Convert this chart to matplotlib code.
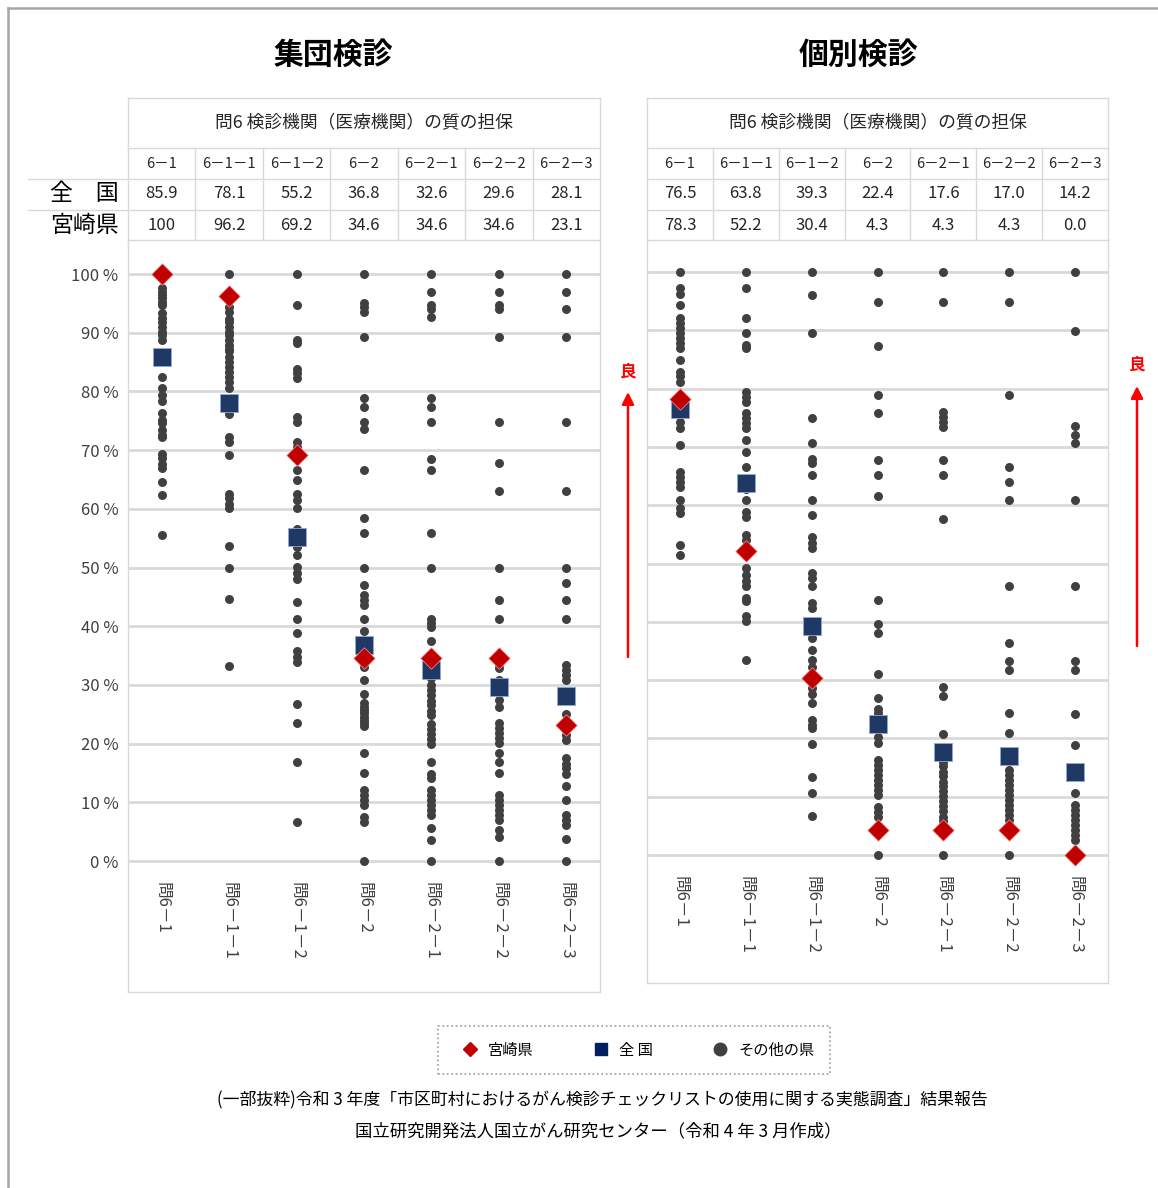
import matplotlib
matplotlib.use("Agg")
import matplotlib.pyplot as plt
from matplotlib.lines import Line2D
from matplotlib.patches import FancyArrowPatch

plt.rcParams["font.family"] = ["Noto Sans CJK JP", "DejaVu Sans"]

W, H = 1158, 1188

# ---- data -------------------------------------------------------------
ITEMS = ["6-1", "6-1-1", "6-1-2", "6-2", "6-2-1", "6-2-2", "6-2-3"]
XLABELS = ["問6-1", "問6-1-1", "問6-1-2", "問6-2", "問6-2-1", "問6-2-2", "問6-2-3"]

GROUP_NATIONAL = [85.9, 78.1, 55.2, 36.8, 32.6, 29.6, 28.1]
GROUP_MIYAZAKI = [100, 96.2, 69.2, 34.6, 34.6, 34.6, 23.1]
INDIV_NATIONAL = [76.5, 63.8, 39.3, 22.4, 17.6, 17.0, 14.2]
INDIV_MIYAZAKI = [78.3, 52.2, 30.4, 4.3, 4.3, 4.3, 0.0]

# other prefectures
GROUP_OTHERS = [
    [100, 100, 97.6, 96.9, 96.4, 95.9, 95.2, 94.7, 93.4, 92.5, 91.8, 91.0, 90.1, 89.6,
     88.8, 82.4, 80.6, 79.4, 78.3, 76.3, 75.1, 74.6, 73.4, 72.6, 72.3, 69.4, 68.6,
     67.7, 66.9, 64.6, 62.3, 55.5],
    [100, 94.4, 93.6, 92.4, 91.9, 91.0, 90.1, 89.6, 88.8, 87.9, 87.3, 86.8, 85.9, 85.0,
     84.2, 83.3, 82.5, 81.6, 80.5, 76.2, 72.3, 71.4, 69.2, 62.6, 61.8, 60.9, 60.1,
     53.7, 50.0, 44.7, 33.3],
    [100, 94.7, 88.8, 88.2, 83.9, 83.1, 82.2, 75.7, 74.8, 71.4, 70.5, 66.6, 64.9, 62.6,
     61.5, 60.1, 56.5, 53.5, 52.1, 50.1, 49.0, 48.0, 44.2, 41.3, 38.9, 35.7, 34.8,
     33.9, 26.7, 23.5, 16.8, 6.7],
    [100, 95.0, 94.3, 93.6, 89.2, 78.8, 77.4, 74.8, 73.6, 66.6, 58.4, 55.8, 50.0, 47.0,
     45.3, 44.5, 43.6, 41.2, 39.1, 37.5, 33.1, 30.8, 28.5, 26.9, 26.3, 25.7, 25.2,
     24.6, 24.1, 23.5, 23.0, 18.4, 15.0, 12.1, 11.2, 10.4, 9.5, 7.5, 6.7, 0],
    [100, 96.9, 94.7, 94.1, 92.7, 78.8, 77.4, 74.8, 68.4, 66.6, 55.8, 50.0, 41.3, 40.5,
     39.9, 37.5, 31.1, 29.9, 29.1, 28.2, 27.3, 26.5, 25.6, 24.8, 23.4, 22.5, 21.7,
     20.8, 19.9, 16.9, 14.9, 14.1, 12.1, 11.2, 10.4, 9.5, 8.7, 7.8, 5.6, 3.6, 0],
    [100, 96.9, 94.7, 94.1, 89.2, 74.8, 67.8, 63.1, 50.0, 44.4, 41.2, 33.6, 32.8, 30.8,
     29.0, 27.4, 26.3, 23.5, 22.7, 21.8, 20.9, 20.1, 18.4, 16.8, 15.0, 11.2, 10.4,
     9.5, 8.7, 7.8, 7.0, 5.3, 4.1, 0],
    [100, 96.9, 94.1, 89.2, 74.8, 63.1, 50.0, 47.4, 44.4, 41.2, 33.4, 32.5, 31.7, 30.8,
     25.1, 21.5, 20.6, 17.5, 16.6, 15.8, 14.9, 12.8, 10.4, 7.8, 7.0, 6.1, 3.7, 0],
]
INDIV_OTHERS = [
    [100, 97.2, 96.3, 94.3, 92.1, 91.2, 90.4, 89.5, 88.7, 87.8, 86.9, 84.9, 82.9, 82.1,
     81.2, 74.3, 73.2, 70.3, 65.7, 64.9, 64.0, 63.2, 60.9, 59.5, 58.6, 53.2, 51.5],
    [100, 97.2, 92.1, 89.5, 87.5, 86.9, 79.4, 78.5, 77.7, 75.8, 75.0, 74.1, 73.2, 71.2,
     69.2, 66.6, 62.8, 60.9, 58.9, 58.0, 54.9, 54.0, 49.2, 48.0, 47.0, 46.1, 44.1,
     43.5, 41.0, 40.1, 33.4],
    [100, 96.1, 89.5, 74.9, 70.6, 68.0, 67.2, 65.2, 60.9, 58.3, 54.6, 53.5, 52.6, 48.3,
     47.5, 46.1, 43.3, 42.4, 37.2, 35.2, 33.4, 32.3, 28.6, 27.7, 26.1, 23.2, 22.3,
     21.7, 19.0, 13.3, 10.6, 6.7],
    [100, 94.9, 87.3, 78.9, 75.9, 67.7, 65.2, 61.5, 43.8, 39.6, 38.1, 31.0, 27.0, 25.0,
     24.3, 20.3, 19.2, 16.3, 15.5, 14.6, 13.7, 12.9, 12.0, 11.2, 10.3, 8.3, 7.4, 6.6, 0],
    [100, 94.9, 76.0, 75.2, 74.3, 73.4, 67.7, 65.2, 57.6, 28.8, 27.3, 20.8, 16.0, 15.2,
     14.3, 13.5, 12.6, 11.8, 10.9, 10.1, 9.2, 8.4, 7.5, 6.6, 5.8, 0],
    [100, 94.9, 78.9, 66.6, 64.0, 60.9, 46.1, 36.4, 33.3, 31.7, 24.3, 20.9, 14.6, 13.7,
     12.9, 12.0, 11.2, 10.3, 9.5, 8.6, 7.7, 6.9, 6.0, 0],
    [100, 89.9, 73.6, 72.0, 70.6, 60.9, 46.1, 33.3, 31.7, 24.2, 18.9, 10.6, 8.6, 7.7,
     6.9, 6.0, 5.1, 4.3, 3.4, 2.6],
]

HEADER = "問6 検診機関（医療機関）の質の担保"
C_DOT = "#404040"
C_NAT = "#1f3864"
C_MIY = "#c00000"
C_GRID = "#d9d9d9"
C_TXT = "#404040"
WIDE_DASH = "\uff0d"   # the source renders the dashes wide

fig = plt.figure(figsize=(W / 100, H / 100), dpi=100)


def fx(x):
    return x / W


def fy(y):
    return 1 - y / H


def hline(x0, x1, y, color=C_GRID, lw=1.0):
    fig.add_artist(Line2D([fx(x0), fx(x1)], [fy(y), fy(y)], color=color, lw=lw,
                          transform=fig.transFigure))


def vline(x, y0, y1, color=C_GRID, lw=1.0):
    fig.add_artist(Line2D([fx(x), fx(x)], [fy(y0), fy(y1)], color=color, lw=lw,
                          transform=fig.transFigure))


def fmt(v):
    return "100" if v == 100 else f"{v:.1f}"


# outer frame
vline(8, 8, 1188, color="#a6a6a6", lw=1.8)
hline(8, 1158, 8, color="#a6a6a6", lw=1.8)


def panel(title, title_x, x0, x1, y_top, y_zero, y_bot, others, national, miyazaki,
          row_labels):
    colw = (x1 - x0) / len(ITEMS)
    ppu = (y_zero - y_top) / 100.0
    fig.text(fx(title_x), fy(55), title, ha="center", va="center",
             fontsize=21.5, fontweight="bold", color="#000000")
    # table
    hline(x0, x1, 98)
    hline(x0, x1, 148)
    lx = 28 if row_labels else x0
    hline(lx, x1, 179)
    hline(lx, x1, 210)
    vline(x0, 98, 240)
    vline(x1, 98, 240)
    fig.text(fx((x0 + x1) / 2), fy(123), HEADER, ha="center", va="center",
             fontsize=12.8, color="#262626")
    for i, item in enumerate(ITEMS):
        cx = x0 + colw * (i + 0.5)
        if i > 0:
            vline(x0 + colw * i, 148, 240)
        fig.text(fx(cx), fy(164), item.replace("-", WIDE_DASH), ha="center",
                 va="center", fontsize=10.5, color="#262626")
        fig.text(fx(cx), fy(194), fmt(national[i]), ha="center", va="center",
                 fontsize=12, color="#262626")
        fig.text(fx(cx), fy(225), fmt(miyazaki[i]), ha="center", va="center",
                 fontsize=12, color="#262626")
    if row_labels:
        fig.text(fx(84), fy(194), "全　国", ha="center", va="center", fontsize=16.5,
                 color="#000000")
        fig.text(fx(84), fy(225), "宮崎県", ha="center", va="center", fontsize=16.5,
                 color="#000000")

    # plot area
    ax = fig.add_axes([fx(x0), fy(y_bot), (x1 - x0) / W, (y_bot - 240) / H])
    ax.set_xlim(-0.5, len(ITEMS) - 0.5)
    ax.set_ylim(-(y_bot - y_zero) / ppu, 100 + (y_top - 240) / ppu)
    for s in ax.spines.values():
        s.set_color(C_GRID)
        s.set_linewidth(1.0)
    ax.set_xticks([])
    ax.set_yticks(range(0, 101, 10))
    ax.grid(axis="y", color=C_GRID, lw=2.0)
    ax.set_axisbelow(True)
    if row_labels:
        ax.set_yticklabels([f"{v} %" for v in range(0, 101, 10)])
        ax.tick_params(axis="y", length=0, pad=7, labelsize=12, labelcolor=C_TXT)
    else:
        ax.tick_params(axis="y", length=0, labelleft=False)

    for i, vals in enumerate(others):
        ax.scatter([i] * len(vals), vals, s=42, color=C_DOT, zorder=3, linewidths=0)
    ax.scatter(range(len(ITEMS)), national, s=150, marker="s", color=C_NAT,
               edgecolors="#8ea9db", linewidths=0.6, zorder=4)
    ax.scatter(range(len(ITEMS)), miyazaki, s=120, marker="D", color=C_MIY,
               edgecolors="#ff9999", linewidths=0.5, zorder=5)
    ylab = -(21 / ppu)
    for i, lab in enumerate(XLABELS):
        ax.text(i, ylab, lab.replace("-", WIDE_DASH), rotation=-90, ha="center",
                va="top", fontsize=12, color=C_TXT)
    return ax


panel("集団検診", 333, 128, 600, 274, 861, 992, GROUP_OTHERS, GROUP_NATIONAL,
      GROUP_MIYAZAKI, True)
panel("個別検診", 858, 647, 1108, 272, 855, 983, INDIV_OTHERS, INDIV_NATIONAL,
      INDIV_MIYAZAKI, False)

# "better" arrows
for ax_x, ty, y0, y1 in [(628, 372, 657, 392), (1137, 364, 646, 386)]:
    fig.text(fx(ax_x), fy(ty), "良", ha="center", va="center", fontsize=12,
             fontweight="bold", color="#ff0000")
    fig.add_artist(FancyArrowPatch((fx(ax_x), fy(y0)), (fx(ax_x), fy(y1)),
                                   transform=fig.transFigure, arrowstyle="-|>",
                                   mutation_scale=18, color="#ff0000", lw=1.8,
                                   shrinkA=0, shrinkB=0))

# legend
handles = [
    Line2D([], [], ls="none", marker="D", ms=7, color=C_MIY, label="宮崎県"),
    Line2D([], [], ls="none", marker="s", ms=8, color="#002060", label="全 国"),
    Line2D([], [], ls="none", marker="o", ms=9, color=C_DOT, label="その他の県"),
]
leg = fig.legend(handles=handles, loc="center", bbox_to_anchor=(fx(634), fy(1050)),
                 ncol=3, fontsize=11, frameon=True, fancybox=False,
                 columnspacing=3.3, handletextpad=0.1, borderpad=1.0,
                 handlelength=2.2)
leg.get_frame().set_linestyle(":")
leg.get_frame().set_edgecolor("#808080")
leg.get_frame().set_linewidth(1.2)

# source note
fig.text(fx(602), fy(1100),
         "(一部抜粋)令和 3 年度「市区町村におけるがん検診チェックリストの使用に関する実態調査」結果報告",
         ha="center", va="center", fontsize=12.2, color="#000000")
fig.text(fx(598), fy(1131), "国立研究開発法人国立がん研究センター（令和 4 年 3 月作成）",
         ha="center", va="center", fontsize=12.5, color="#000000")

fig.savefig("out.png", dpi=100)
